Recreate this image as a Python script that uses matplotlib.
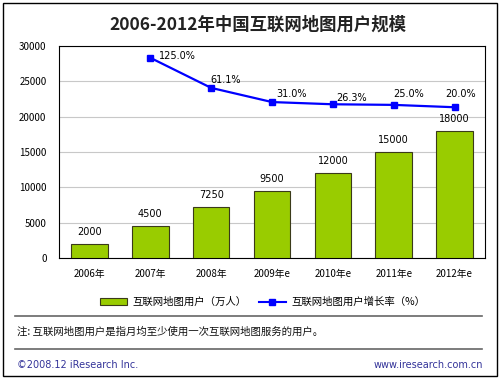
import matplotlib
matplotlib.use('Agg')
import matplotlib.pyplot as plt
from matplotlib.patches import Rectangle, Patch
from matplotlib.lines import Line2D

plt.rcParams['font.family'] = ['Noto Sans CJK SC', 'DejaVu Sans']

# data
years = ['2006年', '2007年', '2008年', '2009年e', '2010年e', '2011年e', '2012年e']
users = [2000, 4500, 7250, 9500, 12000, 15000, 18000]
growth_years = years[1:]
growth = [125.0, 61.1, 31.0, 26.3, 25.0, 20.0]
growth_labels = ['125.0%', '61.1%', '31.0%', '26.3%', '25.0%', '20.0%']

fig = plt.figure(figsize=(5, 3.78), dpi=100)
ax = fig.add_axes([0.118, 0.3175, 0.852, 0.5608])

x = list(range(len(years)))
ax.bar(x, users, width=0.6, color='#99CC00', edgecolor='#3a3a1a', linewidth=0.8, zorder=3)
for xi, v in zip(x, users):
    ax.annotate(str(v), (xi, v), xytext=(0, 5), textcoords='offset points',
                ha='center', va='bottom', fontsize=7, family='DejaVu Sans')

ax.set_ylim(0, 30000)
ax.set_xlim(-0.5, len(years) - 0.5)
ax.set_yticks(range(0, 30001, 5000))
ax.set_xticks(x)
ax.set_xticklabels(years, fontsize=7)
ax.tick_params(axis='y', labelsize=7, length=0, pad=9)
ax.tick_params(axis='x', length=0, pad=8)
ax.yaxis.grid(True, color='#c8c8c8', linewidth=0.8, zorder=0)
ax.set_axisbelow(True)
for s in ax.spines.values():
    s.set_color('black')
    s.set_linewidth(0.8)

# growth rate on a hidden second scale
ax2 = ax.twinx()
ax2.set_ylim(-300, 150)
ax2.axis('off')
gx = [years.index(y) for y in growth_years]
ax2.plot(gx, growth, color='#0000ff', linewidth=1.6, marker='s', markersize=4, zorder=4)
# label placement (pixels right / up from marker), like the original
offs = [(9, 2), (-1, 8), (4, 8), (3, 6), (0, 11), (-9, 13)]
for xi, v, lab, (dx, dy) in zip(gx, growth, growth_labels, offs):
    ax2.annotate(lab, (xi, v), xytext=(dx * 0.72, dy * 0.72), textcoords='offset points',
                 ha='left', va='center', fontsize=7, family='DejaVu Sans')

fig.text(0.516, 0.934, '2006-2012年中国互联网地图用户规模', ha='center', va='center',
         fontsize=12.5, fontweight='bold', color='#222222')

handles = [Patch(facecolor='#99CC00', edgecolor='#3a3a1a', linewidth=0.8),
           Line2D([], [], color='#0000ff', linewidth=1.5, marker='s', markersize=4)]
fig.legend(handles, ['互联网地图用户（万人）', '互联网地图用户增长率（%）'],
           loc='center', bbox_to_anchor=(0.525, 0.201), ncol=2, frameon=False,
           fontsize=7.5, handlelength=2.6, columnspacing=1.2, handletextpad=0.5)

fig.add_artist(Line2D([0.03, 0.964], [0.164, 0.164], color='#666666', linewidth=1.2))
fig.add_artist(Line2D([0.03, 0.964], [0.077, 0.077], color='#666666', linewidth=1.2))
fig.text(0.034, 0.122, '注: 互联网地图用户是指月均至少使用一次互联网地图服务的用户。',
         ha='left', va='center', fontsize=7.5, color='#111111')
fig.text(0.034, 0.034, '©2008.12 iResearch Inc.', ha='left', va='center',
         fontsize=7, color='#333399', family='DejaVu Sans')
fig.text(0.966, 0.034, 'www.iresearch.com.cn', ha='right', va='center',
         fontsize=7, color='#333399', family='DejaVu Sans')

fig.add_artist(Rectangle((0.006, 0.005), 0.988, 0.987, transform=fig.transFigure,
                         fill=False, edgecolor='black', linewidth=1.0))

fig.savefig('out.png', dpi=100)
